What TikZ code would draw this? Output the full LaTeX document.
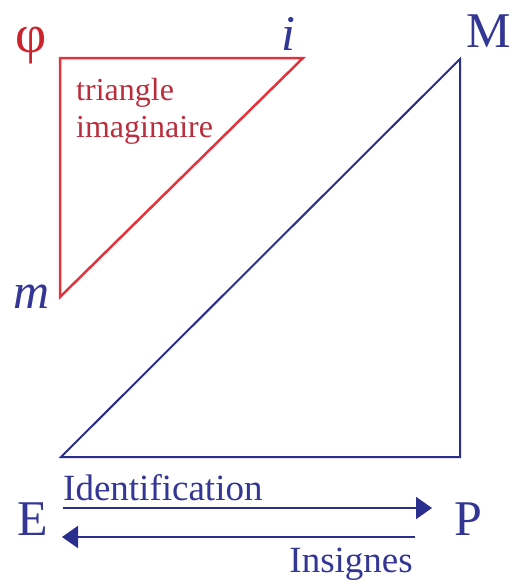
\documentclass[tikz,border=0pt]{standalone}
\usepackage{fontspec}
\setmainfont{Liberation Serif}
\usetikzlibrary{arrows.meta}
\definecolor{redline}{RGB}{226,50,60}
\definecolor{redtext}{RGB}{185,45,60}
\definecolor{phired}{RGB}{205,35,45}
\definecolor{navy}{RGB}{42,46,140}
\definecolor{bluetext}{RGB}{52,54,150}
\tikzset{
  lbl/.style={inner sep=0pt, text=bluetext, font=\fontsize{50}{50}\selectfont},
  small/.style={inner sep=0pt, text=bluetext, font=\fontsize{37}{37}\selectfont},
  redtri/.style={draw=redline, line width=2.5pt, line join=miter},
  bluetri/.style={draw=navy, line width=2pt, line join=miter},
  arr/.style={draw=navy, line width=2pt, -{Triangle[length=16pt,width=22pt]}}
}
\begin{document}
\begin{tikzpicture}[x=1pt,y=-1pt]
\useasboundingbox (0,0) rectangle (513,584);
% red triangle
\coordinate (phiv) at (60,58);
\coordinate (iv) at (303,58);
\coordinate (mv) at (60,297);
\draw[redtri] (phiv) -- (iv) -- (mv) -- cycle;
% blue triangle
\coordinate (Ev) at (61,457);
\coordinate (Pv) at (460,457);
\coordinate (Mv) at (460,59);
\draw[bluetri] (Ev) -- (Pv) -- (Mv) -- cycle;
% labels
\node[lbl, text=phired, anchor=base, font=\fontsize{54}{54}\selectfont] (phi) at (31,52) {φ};
\node[lbl, anchor=base] (i) at (288,50) {\itshape i};
\node[lbl, anchor=base] (M) at (489,47) {M};
\node[lbl, anchor=base] (m) at (32,308) {\itshape m};
\node[lbl, anchor=base] (E) at (33,535) {E};
\node[lbl, anchor=base] (P) at (468,535) {P};
\node[inner sep=0pt, text=redtext, font=\fontsize{32}{37}\selectfont, anchor=base west, align=left] (tri) at (76,137) {triangle\\imaginaire};
% arrows
\coordinate (a1s) at (63,508);
\coordinate (a1e) at (432,508);
\coordinate (a2s) at (415,537);
\coordinate (a2e) at (62,537);
\draw[arr] (a1s) -- (a1e);
\draw[arr] (a2s) -- (a2e);
\node[small, anchor=base west] (ident) at (63,500) {Identification};
\node[small, anchor=base east] (ins) at (413,572) {Insignes};
\end{tikzpicture}
\end{document}
